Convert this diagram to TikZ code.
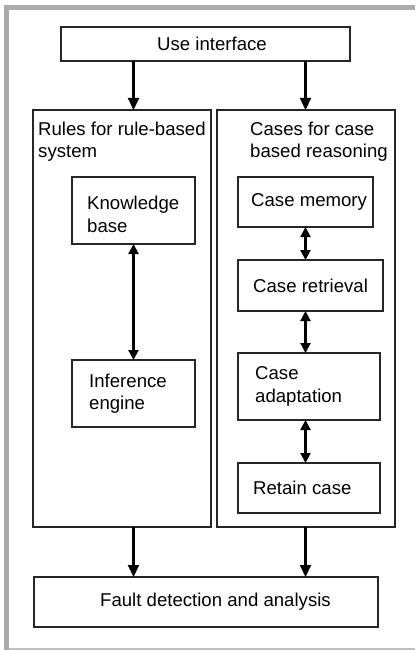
\documentclass[tikz,border=0pt]{standalone}
\usepackage{fontspec}
\setmainfont{Liberation Sans}
\usetikzlibrary{arrows.meta}
\tikzset{
  box/.style={draw=black!85,line width=1.3pt,inner sep=0pt,outer sep=0pt,anchor=north west},
  inside/.style={anchor=west,xshift=15pt,inner sep=0pt,align=left},
  title/.style={inner sep=0pt,anchor=north west,align=left},
  link/.style={line width=2.1pt,-{Triangle[length=12pt,width=11pt]}},
  both/.style={line width=2.1pt,{Triangle[length=10pt,width=10pt]}-{Triangle[length=10pt,width=10pt]}}
}
\begin{document}
\begin{tikzpicture}[x=1pt,y=-1pt,font=\fontsize{18.6pt}{22.5pt}\selectfont]
\pgfmathsetmacro{\w}{178}
\pgfmathsetmacro{\h}{417}
\useasboundingbox (0,0) rectangle (415,650);
% grey frame
\fill[black!33] (4,5) rectangle (415,10);
\fill[black!33] (4,5) rectangle (9,650);
\fill[black!25] (9,648) rectangle (415,650);
% top and bottom
\node[box,minimum width=289pt,minimum height=34pt,label={[inside,xshift=81pt]west:Use interface}] (ui) at (61,27) {};
\node[box,minimum width=344pt,minimum height=50pt,label={[inside,xshift=51pt]west:Fault detection and analysis}] (fault) at (34,577) {};
% two columns
\node[box,minimum width=\w pt,minimum height=\h pt] (rules) at (33,110) {};
\node[box,minimum width=\w pt,minimum height=\h pt] (cases) at (217,110) {};
\node[title] (rulestitle) at (38,121.5) {Rules for rule-based\\system};
\node[title] (casestitle) at (250,121.5) {Cases for case\\based reasoning};
% rule-based side
\node[box,minimum width=123pt,minimum height=67pt,label={[inside,yshift=-4pt]west:{Knowledge\\base}}] (kb) at (72,177) {};
\node[box,minimum width=123pt,minimum height=67pt,label={[inside,xshift=2pt]west:{Inference\\engine}}] (ie) at (72,360) {};
% case-based side
\node[box,minimum width=135pt,minimum height=50pt,label={[inside,xshift=-2pt]west:Case memory}] (mem) at (238,177) {};
\node[box,minimum width=145pt,minimum height=51pt,label={[inside]west:Case retrieval}] (ret) at (238,260) {};
\node[box,minimum width=142pt,minimum height=67pt,label={[inside,xshift=2pt]west:{Case\\adaptation}}] (ada) at (238,353) {};
\node[box,minimum width=142pt,minimum height=50pt,label={[inside]west:Retain case}] (keep) at (238,463) {};
% connectors
\draw[link](ui.south -| kb)--(rules.north -| kb);
\draw[link](ui.south -| mem)--(cases.north -| mem);
\draw[both](kb)--(ie);
\draw[both](mem.south)--(mem.south |- ret.north);
\draw[both](ret.south -| mem)--(ada.north -| mem);
\draw[both](ada.south -| mem)--(keep.north -| mem);
\draw[link](rules.south -| kb)--(fault.north -| kb);
\draw[link](cases.south -| mem)--(fault.north -| mem);
\end{tikzpicture}
\end{document}
